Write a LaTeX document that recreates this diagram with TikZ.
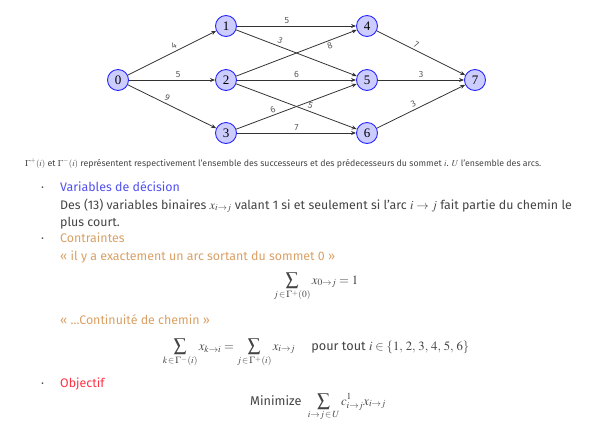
\documentclass[tikz,border=0pt]{standalone}
\usepackage{mathptmx}
\usepackage[no-math]{fontspec}
\setmainfont{Fira Sans}
\newfontfamily\vertexfont{Liberation Serif}
\usepackage{amsmath}
\usetikzlibrary{arrows.meta}

\definecolor{txtgray}{HTML}{444444}
\definecolor{varblue}{HTML}{5050EE}
\definecolor{contan}{HTML}{D9A066}
\definecolor{objred}{HTML}{FF3344}

\begin{document}
\begin{tikzpicture}[
    x=1pt, y=-1pt,
    >={Stealth[length=5pt,width=4pt]},
    vertex/.style={draw=blue!85, fill=blue!20, circle, line width=0.9pt,
        minimum size=21pt, inner sep=0pt, font=\fontsize{13}{13}\selectfont\vertexfont},
    arc/.style={->, draw=black!80, line width=0.8pt},
    wt/.style={font=\fontsize{9}{9}\selectfont, text=black!65, sloped, inner sep=2pt},
    line/.style={anchor=base west, inner sep=0pt, text=txtgray,
        font=\fontsize{12.4}{14}\selectfont},
    dot/.style={anchor=base west, inner sep=0pt, text=txtgray, font=\fontsize{12.4}{14}\selectfont},
    formula/.style={anchor=base, inner sep=0pt, text=txtgray, font=\fontsize{12.7}{15}\selectfont}
]
\useasboundingbox (0,0) rectangle (589,424);

% graph
\node[vertex] (n0) at (118,80) {0};
\node[vertex] (n1) at (226,26) {1};
\node[vertex] (n2) at (226,80) {2};
\node[vertex] (n3) at (226,133) {3};
\node[vertex] (n4) at (367,26) {4};
\node[vertex] (n5) at (367,80) {5};
\node[vertex] (n6) at (367,133) {6};
\node[vertex] (n7) at (475,80) {7};

\draw[arc] (n0) -- node[wt, pos=0.55, above] {4} (n1);
\draw[arc] (n0) -- node[wt, pos=0.57, above] {5} (n2);
\draw[arc] (n0) -- node[wt, pos=0.42, above] {9} (n3);
\draw[arc] (n1) -- node[wt, pos=0.42, above] {5} (n4);
\draw[arc] (n1) -- node[wt, pos=0.35, above] {3} (n5);
\draw[arc] (n2) -- node[wt, pos=0.76, below] {8} (n4);
\draw[arc] (n2) -- node[wt, pos=0.5, above] {6} (n5);
\draw[arc] (n2) -- node[wt, pos=0.6, above] {5} (n6);
\draw[arc] (n3) -- node[wt, pos=0.32, above] {6} (n5);
\draw[arc] (n3) -- node[wt, pos=0.5, above] {7} (n6);
\draw[arc] (n4) -- node[wt, pos=0.42, above] {7} (n7);
\draw[arc] (n5) -- node[wt, pos=0.5, above] {3} (n7);
\draw[arc] (n6) -- node[wt, pos=0.44, above] {3} (n7);

% legend
\node[anchor=base west, inner sep=0pt, text=txtgray, font=\fontsize{8.8}{10}\selectfont] (legend) at (25,166)
    {$\Gamma^{+}(i)$ et $\Gamma^{-}(i)$ représentent respectivement l'ensemble des successeurs et des prédecesseurs du sommet $i$. $U$ l'ensemble des arcs.};

% variables
\node[dot] (b1) at (41,191) {·};
\node[line, text=varblue] (var) at (60,191) {Variables de décision};
\node[line] (var1) at (60,209) {Des (13) variables binaires $x_{i\to j}$ valant 1 si et seulement si l'arc $i\to j$ fait partie du chemin le};
\node[line] (var2) at (60,226) {plus court.};

% contraintes
\node[dot] (b2) at (41,242) {·};
\node[line, text=contan] (con) at (60,242) {Contraintes};
\node[line, text=contan] (con1) at (60,260) {« il y a exactement un arc sortant du sommet 0 »};
\node[formula] (eq1) at (316,284) {$\displaystyle\sum_{j\,\in\,\Gamma^{+}(0)} x_{0\to j} = 1$};
\node[line, text=contan] (con2) at (60,324) {« ...Continuité de chemin »};
\node[formula] (eq2) at (316,350) {$\displaystyle\sum_{k\,\in\,\Gamma^{-}(i)} x_{k\to i} = \sum_{j\,\in\,\Gamma^{+}(i)} x_{i\to j}$\quad\ pour tout $i\in\{1,\,2,\,3,\,4,\,5,\,6\}$};

% objectif
\node[dot] (b3) at (41,387) {·};
\node[line, text=objred] (obj) at (60,387) {Objectif};
\node[formula] (eq3) at (318,405) {Minimize\enspace $\displaystyle\sum_{i\to j\,\in\,U} c^{1}_{i\to j}x_{i\to j}$};
\end{tikzpicture}
\end{document}
